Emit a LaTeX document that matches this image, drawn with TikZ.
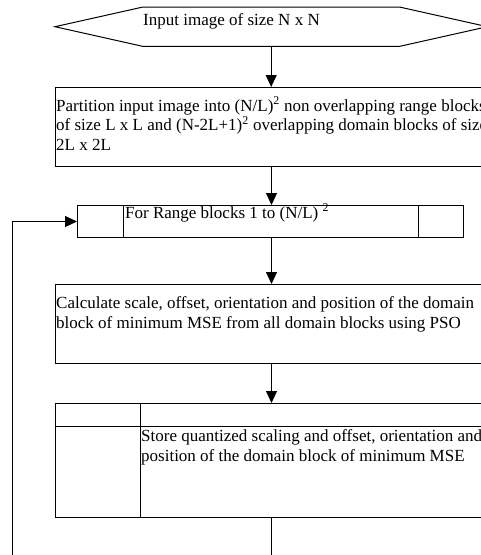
\documentclass[tikz,border=0pt]{standalone}
\usepackage{fontspec}
\setmainfont{Liberation Serif}
\usetikzlibrary{arrows.meta,calc}
\tikzset{
	flow/.style={line width=1pt, -{Triangle[width=11pt,length=12pt]}},
	box/.style={draw, line width=1pt, rectangle, anchor=north west, inner sep=0pt},
	boxtext/.style={anchor=base west, align=left, inner sep=0pt, font=\fontsize{17}{19.5}\selectfont},
}

\begin{document}
\begin{tikzpicture}[x=1pt,y=-1pt]
			%%%%% START %%%%%
			\useasboundingbox (0,0) rectangle (481,555);
			\clip (0,0) rectangle (481,555);
			
			\node[minimum width=256pt, minimum height=39pt, anchor=north west, inner sep=0pt] (input) at (143,7) {};
			\draw[line width=1pt] (input.north west) -- (input.north east) -- ($(input.east)+(88,0)$) -- (input.south east) -- (input.south west) -- ($(input.west)+(-88,0)$) -- cycle;
			\node[boxtext] (inputtxt) at (143,25) {Input image of size N x N};
			
			% text nodes are placed by the baseline of their last line
			\node[box, minimum width=432pt, minimum height=79pt] (part) at (55,87) {};
			\node[boxtext] (parttxt) at (56,150) {Partition input image into (N/L)\textsuperscript{2} non overlapping range blocks\\of size L x L and (N-2L+1)\textsuperscript{2} overlapping domain blocks of size\\2L x 2L};
			
			\node[box, minimum width=386pt, minimum height=32pt] (range) at (77,205) {};
			\draw[line width=1pt] ($(range.north west)+(46,0)$) -- ($(range.south west)+(46,0)$);
			\draw[line width=1pt] ($(range.north east)+(-46,0)$) -- ($(range.south east)+(-46,0)$);
			\node[boxtext] (rangetxt) at (125,218) {For Range blocks 1 to (N/L) \textsuperscript{2}};
			
			\node[box, minimum width=432pt, minimum height=79pt] (calc) at (55,284) {};
			\node[boxtext] (calctxt) at (56,328) {Calculate scale, offset, orientation and position of the domain\\block of minimum MSE from all domain blocks using PSO};
			
			\node[box, minimum width=432pt, minimum height=114pt] (store) at (55,403) {};
			\draw[line width=1pt] ($(store.north west)+(85,0)$) -- ($(store.south west)+(85,0)$);
			\draw[line width=1pt] ($(store.north west)+(0,23)$) -- ($(store.north east)+(0,23)$);
			\node[boxtext] (storetxt) at (141,461) {Store quantized scaling and offset, orientation and\\position of the domain block of minimum MSE};
			
			\draw[flow] (input.south) -- (input.south |- part.north);
			\draw[flow] (part.south) -- (part.south |- range.north);
			\draw[flow] (part.south |- range.south) -- (calc.north);
			\draw[flow] (calc.south) -- (store.north);
			\coordinate (storeout) at ($(store.south)+(0,45)$);
			\draw[line width=1pt] (store.south) -- (storeout);
			
			\coordinate (loopin) at (12,560);
			\draw[flow] (loopin) |- (range.west);
			%%%%% END %%%%%
\end{tikzpicture}
\end{document}
